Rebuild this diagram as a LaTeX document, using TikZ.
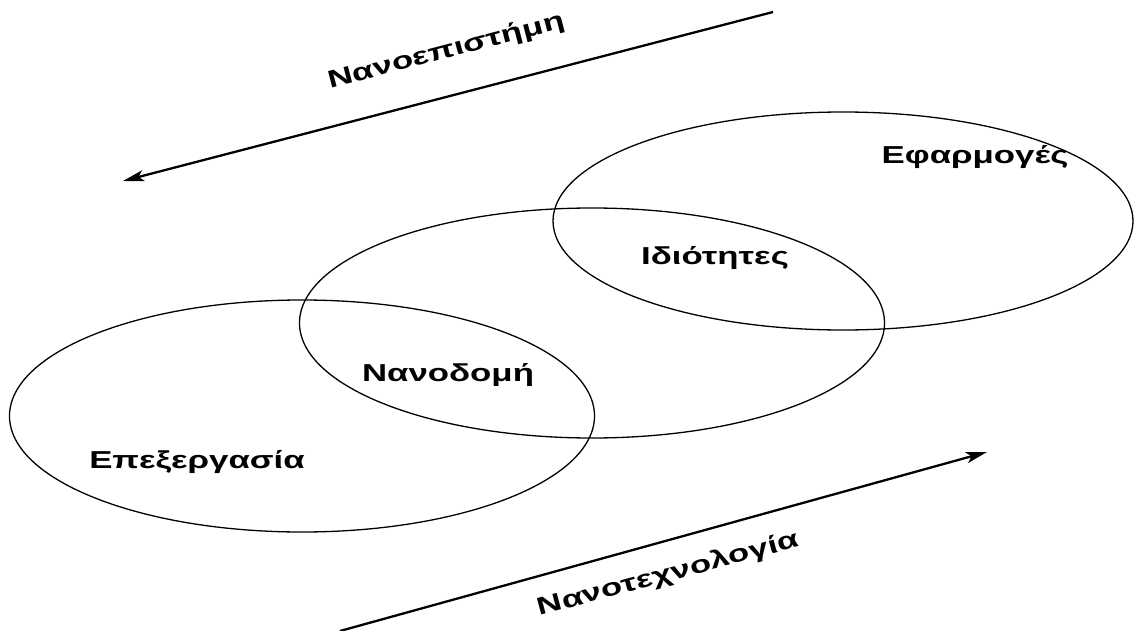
\documentclass[tikz,border=0pt]{standalone}
\usepackage{fontspec}
\usepackage{graphicx}
\setmainfont{Liberation Sans}
\usetikzlibrary{arrows.meta,shapes.geometric}
\newcommand{\wide}[1]{\scalebox{1.42}[1]{#1}}
\begin{document}
\begin{tikzpicture}[x=1pt,y=-1pt,
  ell/.style={draw, ellipse, line width=1.3pt, inner sep=0pt},
  lbl/.style={font=\fontsize{24.5}{29}\selectfont\bfseries, inner sep=0pt, anchor=base},
  flow/.style={line width=2.3pt, -{Stealth[length=21pt,width=11pt,inset=5pt]}}]
\useasboundingbox (0,0) rectangle (1134,631);
% ellipses
\node[ell, minimum width=585pt, minimum height=232pt] (proc) at (302,416) {};
\node[ell, minimum width=585pt, minimum height=230pt] (struct) at (592,323) {};
\node[ell, minimum width=580pt, minimum height=218pt] (appl) at (843,221) {};
% labels
\node[lbl] (tproc) at (197,468) {\wide{Επεξεργασία}};
\node[lbl] (tstruct) at (448,381) {\wide{Νανοδομή}};
\node[lbl] (tprop) at (715,264) {\wide{Ιδιότητες}};
\node[lbl] (tappl) at (975,164) {\wide{Εφαρμογές}};
% arrows
\coordinate (s1) at (773,12);
\coordinate (e1) at (123,181);
\coordinate (s2) at (340,631);
\coordinate (e2) at (987,452);
\draw[flow] (s1) -- (e1);
\draw[flow] (s2) -- (e2);
\node[lbl, rotate=14.5] (tsci) at (448,58) {\wide{Νανοεπιστήμη}};
\node[lbl, rotate=15] (ttech) at (670,581) {\wide{Νανοτεχνολογία}};
\end{tikzpicture}
\end{document}
